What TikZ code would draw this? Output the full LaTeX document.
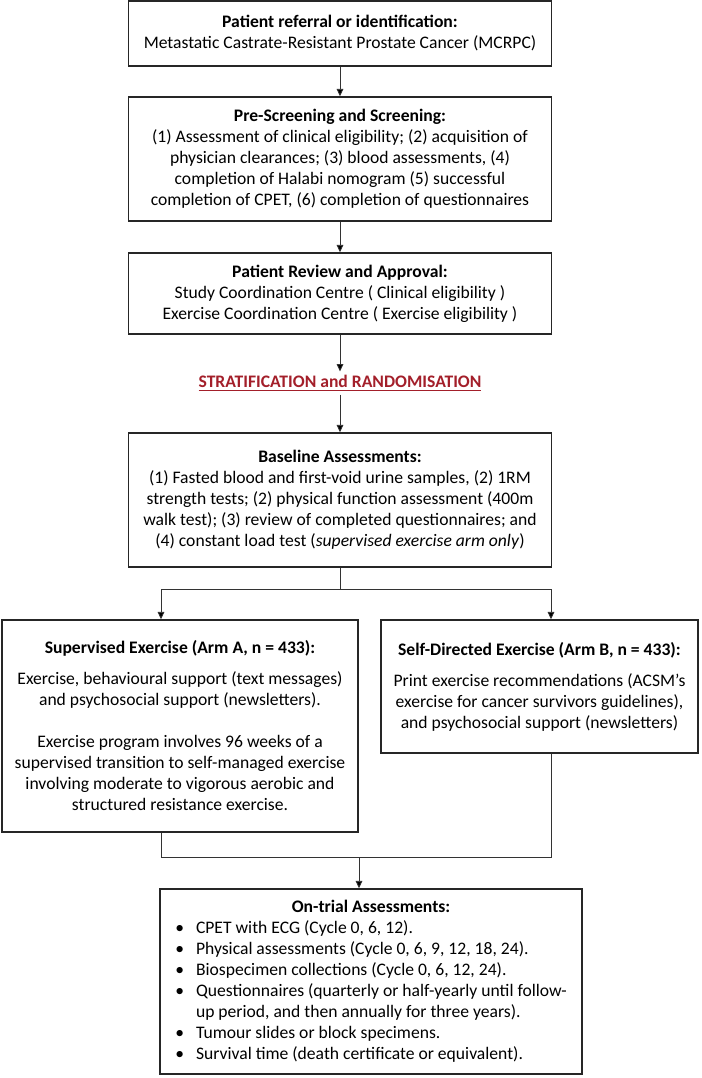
\documentclass[tikz,border=0pt]{standalone}
\usepackage{fontspec}
\setmainfont{Carlito}
\usetikzlibrary{arrows.meta}
\definecolor{stratred}{RGB}{163,31,42}

\begin{document}
\begin{tikzpicture}
        [x=0.75pt,y=-0.75pt,
        every node/.style={align=center,inner sep=0pt,font=\fontsize{13.2}{15.75}\selectfont},
        flow-box/.style={rectangle,draw=black!85,line width=1.1pt},
        main-box/.style={flow-box,minimum width=317.25pt},
        arm-a-box/.style={flow-box,minimum width=267pt,minimum height=159pt},
        arm-b-box/.style={flow-box,minimum width=237.75pt,minimum height=99.75pt},
        end-box/.style={flow-box,minimum width=316.5pt,minimum height=138.75pt},
        strat-label/.style={font=\fontsize{13.2}{15.75}\selectfont\bfseries,text=stratred,outer sep=3pt},
        line/.style={draw=black!80,line width=0.6pt},
        link/.style={line,-{Triangle[length=5.5pt,width=5pt,fill=black]}}
        ]
        \useasboundingbox (0,0) rectangle (701,1078);
        \node[main-box,minimum height=48.75pt] (box-referral) at (340, 33.5)
            {\textbf{Patient referral or identification:}\\
             Metastatic Castrate-Resistant Prostate Cancer (MCRPC)};
        \node[main-box,minimum height=93pt] (box-screening) at (340, 159)
            {\textbf{Pre-Screening and Screening:}\\
             (1) Assessment of clinical eligibility; (2) acquisition of\\
             physician clearances; (3) blood assessments, (4)\\
             completion of Halabi nomogram (5) successful\\
             completion of CPET, (6) completion of questionnaires};
        \node[main-box,minimum height=60.75pt] (box-review) at (340, 293.5)
            {\textbf{Patient Review and Approval:}\\
             Study Coordination Centre ( Clinical eligibility )\\
             Exercise Coordination Centre ( Exercise eligibility )};
        \node[strat-label] (strat) at (340, 383) {\underline{STRATIFICATION and RANDOMISATION}};
        \node[main-box,minimum height=100.5pt] (box-baseline) at (340, 500)
            {\textbf{Baseline Assessments:}\\
             (1) Fasted blood and first-void urine samples, (2) 1RM\\
             strength tests; (2) physical function assessment (400m\\
             walk test); (3) review of completed questionnaires; and\\
             (4) constant load test (\textit{supervised exercise arm only})};
        \node[arm-a-box] (box-arm-a) at (180, 726)
            {\textbf{Supervised Exercise (Arm A, n = 433):}\\[7.5pt]
             Exercise, behavioural support (text messages)\\
             and psychosocial support (newsletters).\\[15.75pt]
             Exercise program involves 96 weeks of a\\
             supervised transition to self-managed exercise\\
             involving moderate to vigorous aerobic and\\
             structured resistance exercise.};
        \node[arm-b-box] (box-arm-b) at (539.5, 686.5)
            {\textbf{Self-Directed Exercise (Arm B, n = 433):}\\[7.5pt]
             Print exercise recommendations (ACSM’s\\
             exercise for cancer survivors guidelines),\\
             and psychosocial support (newsletters)};
        \node[end-box] (box-ontrial) at (371, 981.5)
            {\begin{tabular}{@{}l@{\hspace{9pt}}l@{}}
             \multicolumn{2}{c}{\textbf{On-trial Assessments:}}\\
             \textbullet & CPET with ECG (Cycle 0, 6, 12).\\
             \textbullet & Physical assessments (Cycle 0, 6, 9, 12, 18, 24).\\
             \textbullet & Biospecimen collections (Cycle 0, 6, 12, 24).\\
             \textbullet & Questionnaires (quarterly or half-yearly until follow-\\
                         & up period, and then annually for three years).\\
             \textbullet & Tumour slides or block specimens.\\
             \textbullet & Survival time (death certificate or equivalent).
             \end{tabular}};
        % split and join points
        \coordinate (split-a) at (161, 589);
        \coordinate (split-b) at (551, 589);
        \coordinate (join-a) at (161, 857);
        \coordinate (join-b) at (551, 857);
        \coordinate (join-mid) at (359, 857);
        \draw[link] (box-referral) -- (box-screening);
        \draw[link] (box-screening) -- (box-review);
        \draw[link] (box-review) -- (strat);
        \draw[link] (strat) -- (box-baseline);
        \draw[line] (box-baseline) -- (box-baseline |- split-a);
        \draw[link] (split-b) -- (split-a) -- (split-a |- box-arm-a.north);
        \draw[link] (split-b) -- (split-b |- box-arm-b.north);
        \draw[line] (box-arm-a.south -| join-a) -- (join-a) -- (join-b) -- (box-arm-b.south -| join-b);
        \draw[link] (join-mid) -- (join-mid |- box-ontrial.north);
    \end{tikzpicture}
\end{document}
